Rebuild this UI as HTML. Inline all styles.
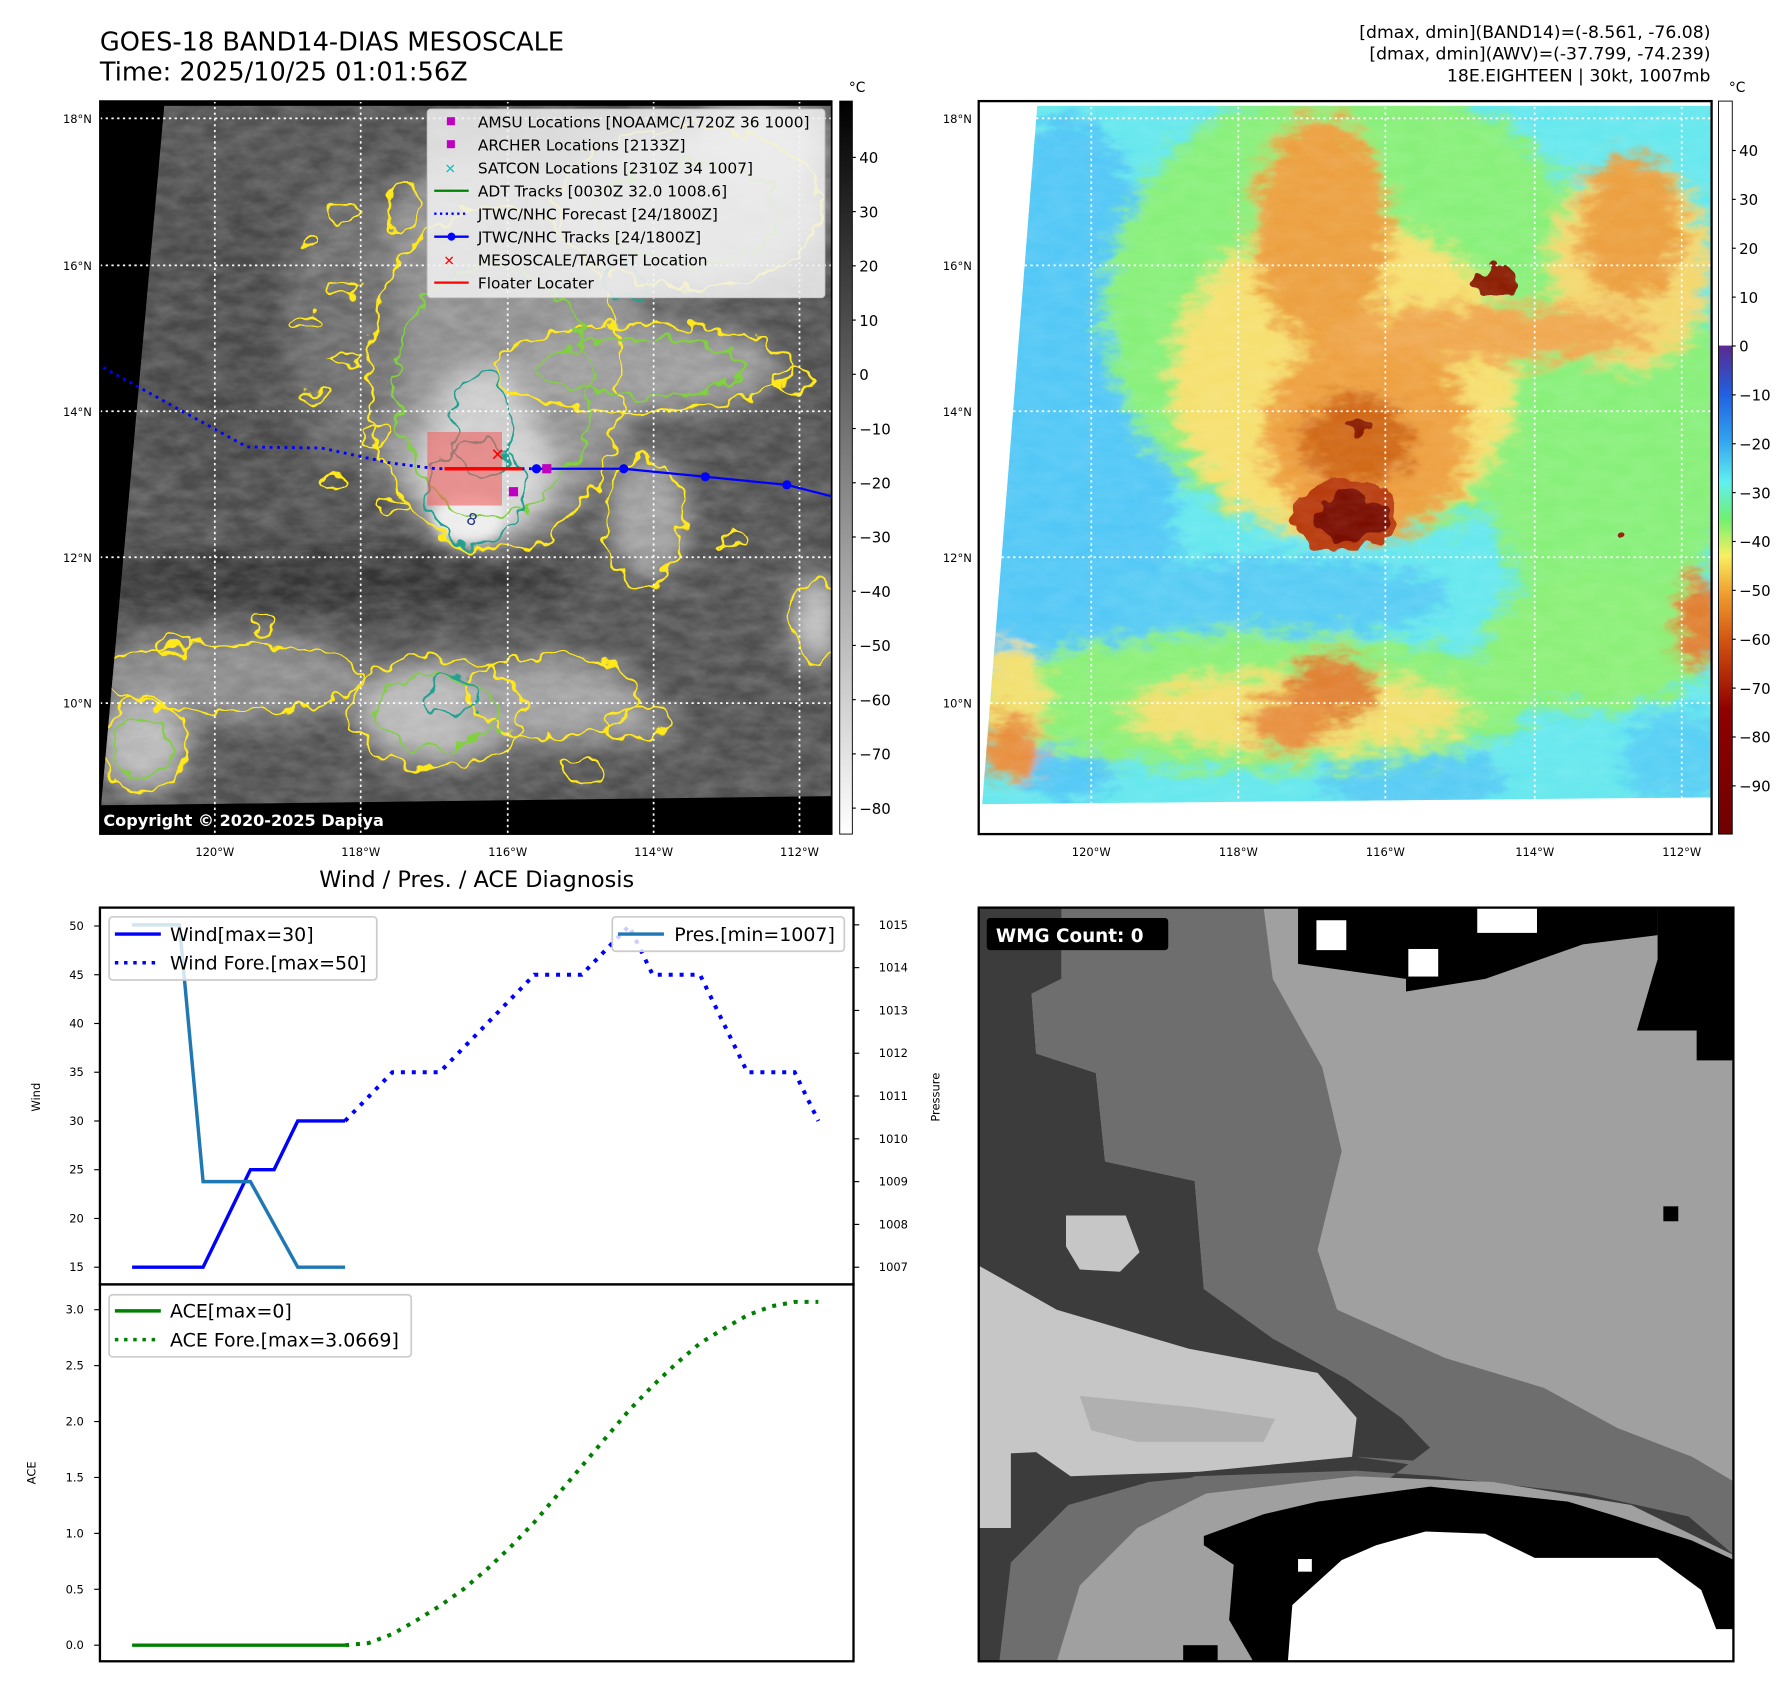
<!DOCTYPE html>
<html><head><meta charset="utf-8"><style>
html,body{margin:0;padding:0;background:#fff;}
svg{display:block;font-family:"DejaVu Sans","Liberation Sans",sans-serif;}
</style></head><body>
<svg id="fig" xmlns="http://www.w3.org/2000/svg" width="1792" height="1690" viewBox="0 0 1560 1471" preserveAspectRatio="none">
<defs>
  <clipPath id="clipL"><rect x="87" y="88" width="637" height="638"/></clipPath>
  <clipPath id="clipR"><rect x="852" y="88" width="638" height="638"/></clipPath>
  <clipPath id="clipDataL"><polygon points="143,92 724,92 724,693 88,701"/></clipPath>
  <clipPath id="clipDataR"><polygon points="903,92 1490,92 1490,694 855,700"/></clipPath>
  <clipPath id="clipW"><rect x="852" y="790" width="657" height="656"/></clipPath>
  <filter id="blur12" x="-50%" y="-50%" width="200%" height="200%"><feGaussianBlur stdDeviation="12"/></filter>
  <filter id="blur5" x="-50%" y="-50%" width="200%" height="200%"><feGaussianBlur stdDeviation="5"/></filter>
  <filter id="cloud" x="-30%" y="-30%" width="160%" height="160%">
    <feGaussianBlur stdDeviation="7" result="b"/>
    <feTurbulence type="fractalNoise" baseFrequency="0.05 0.1" numOctaves="3" seed="5" result="n"/>
    <feDisplacementMap in="b" in2="n" scale="34" xChannelSelector="R" yChannelSelector="G"/>
  </filter>
  <filter id="wig" x="-20%" y="-20%" width="140%" height="140%">
    <feTurbulence type="fractalNoise" baseFrequency="0.06" numOctaves="2" seed="3" result="n"/>
    <feDisplacementMap in="SourceGraphic" in2="n" scale="22" xChannelSelector="R" yChannelSelector="G"/>
  </filter>
  <filter id="tex" x="0" y="0" width="100%" height="100%">
    <feTurbulence type="fractalNoise" baseFrequency="0.045 0.09" numOctaves="3" seed="7"/>
    <feColorMatrix type="matrix" values="0 0 0 0 1  0 0 0 0 1  0 0 0 0 1  0.5 0 0 0 -0.12"/>
  </filter>
  <linearGradient id="cbL" x1="0" y1="0" x2="0" y2="1">
    <stop offset="0" stop-color="#000"/><stop offset="1" stop-color="#fff"/>
  </linearGradient>
  <linearGradient id="cbR" x1="0" y1="0" x2="0" y2="1">
    <stop offset="0" stop-color="#fff"/><stop offset="0.333" stop-color="#fff"/>
    <stop offset="0.334" stop-color="#5a2a90"/><stop offset="0.40" stop-color="#2060e0"/>
    <stop offset="0.46" stop-color="#30a0f0"/><stop offset="0.52" stop-color="#60f0f0"/>
    <stop offset="0.57" stop-color="#70f070"/><stop offset="0.62" stop-color="#f8f060"/>
    <stop offset="0.67" stop-color="#f0a030"/><stop offset="0.74" stop-color="#d05010"/>
    <stop offset="0.83" stop-color="#900000"/><stop offset="1" stop-color="#700000"/>
  </linearGradient>
</defs>

<!-- Titles -->
<text x="87" y="44" font-size="22.3">GOES-18 BAND14-DIAS MESOSCALE</text>
<text x="87" y="70" font-size="22.3">Time: 2025/10/25 01:01:56Z</text>
<g font-size="15" text-anchor="end">
  <text x="1489" y="33">[dmax, dmin](BAND14)=(-8.561, -76.08)</text>
  <text x="1489" y="52">[dmax, dmin](AWV)=(-37.799, -74.239)</text>
  <text x="1489" y="71">18E.EIGHTEEN | 30kt, 1007mb</text>
</g>

<!-- LEFT MAP -->
<g clip-path="url(#clipL)">
  <rect x="87" y="88" width="637" height="638" fill="#000"/>
  <g clip-path="url(#clipDataL)">
    <rect x="87" y="88" width="637" height="638" fill="#505050"/>
    <g filter="url(#blur12)">
      <ellipse cx="280" cy="505" rx="220" ry="30" fill="#363636"/>
      <ellipse cx="200" cy="300" rx="90" ry="140" fill="#484848"/>
      <ellipse cx="430" cy="300" rx="130" ry="170" fill="#8e8e8e"/>
      <ellipse cx="300" cy="280" rx="50" ry="120" fill="#6a6a6a"/>
      <ellipse cx="600" cy="180" rx="120" ry="70" fill="#a8a8a8"/>
      <ellipse cx="660" cy="125" rx="60" ry="40" fill="#c0c0c0"/>
      <ellipse cx="560" cy="320" rx="120" ry="40" fill="#9a9a9a"/>
      <ellipse cx="565" cy="450" rx="35" ry="55" fill="#a0a0a0"/>
      <ellipse cx="420" cy="410" rx="60" ry="60" fill="#d4d4d4"/>
      <ellipse cx="420" cy="360" rx="40" ry="40" fill="#cccccc"/>
      <ellipse cx="200" cy="590" rx="120" ry="40" fill="#8a8a8a"/>
      <ellipse cx="380" cy="620" rx="70" ry="45" fill="#b8b8b8"/>
      <ellipse cx="480" cy="610" rx="80" ry="40" fill="#9e9e9e"/>
      <ellipse cx="125" cy="650" rx="40" ry="40" fill="#b8b8b8"/>
      <ellipse cx="555" cy="630" rx="30" ry="15" fill="#a0a0a0"/>
      <ellipse cx="710" cy="540" rx="20" ry="40" fill="#c8c8c8"/>
    </g>
    <ellipse cx="408" cy="452" rx="32" ry="22" fill="#ececec" filter="url(#blur5)"/>
    <rect x="87" y="88" width="637" height="638" filter="url(#tex)" opacity="0.6"/>
    <g filter="url(#wig)" fill="none" stroke-width="2">
      <g stroke="#ffe81a">
        <ellipse cx="430" cy="330" rx="110" ry="150"/>
        <ellipse cx="600" cy="180" rx="115" ry="70"/>
        <ellipse cx="560" cy="320" rx="130" ry="38"/>
        <ellipse cx="560" cy="455" rx="35" ry="55"/>
        <ellipse cx="200" cy="590" rx="115" ry="30"/>
        <ellipse cx="380" cy="620" rx="75" ry="48"/>
        <ellipse cx="480" cy="605" rx="75" ry="35"/>
        <ellipse cx="125" cy="650" rx="38" ry="40"/>
        <ellipse cx="555" cy="630" rx="28" ry="14"/>
        <ellipse cx="710" cy="540" rx="20" ry="38"/>
        <ellipse cx="510" cy="670" rx="20" ry="10"/>
        <ellipse cx="300" cy="185" rx="14" ry="6"/><ellipse cx="270" cy="210" rx="12" ry="5"/>
        <ellipse cx="300" cy="250" rx="14" ry="6"/><ellipse cx="265" cy="280" rx="12" ry="5"/>
        <ellipse cx="300" cy="310" rx="14" ry="6"/><ellipse cx="270" cy="345" rx="12" ry="5"/>
        <ellipse cx="330" cy="380" rx="14" ry="6"/><ellipse cx="290" cy="420" rx="12" ry="5"/>
        <ellipse cx="340" cy="440" rx="14" ry="6"/><ellipse cx="350" cy="180" rx="12" ry="25"/>
        <ellipse cx="640" cy="470" rx="10" ry="6"/><ellipse cx="690" cy="330" rx="14" ry="10"/>
        <ellipse cx="230" cy="545" rx="10" ry="8"/><ellipse cx="150" cy="560" rx="14" ry="8"/>
      </g>
      <g stroke="#80d040">
        <ellipse cx="430" cy="340" rx="85" ry="110"/>
        <ellipse cx="600" cy="185" rx="80" ry="45"/>
        <ellipse cx="380" cy="620" rx="55" ry="32"/>
        <ellipse cx="560" cy="320" rx="90" ry="25"/>
        <ellipse cx="125" cy="650" rx="25" ry="25"/>
      </g>
      <g stroke="#20a090">
        <ellipse cx="415" cy="430" rx="42" ry="45"/>
        <ellipse cx="420" cy="370" rx="25" ry="45"/>
        <ellipse cx="540" cy="245" rx="18" ry="15"/>
        <ellipse cx="395" cy="605" rx="22" ry="18"/>
      </g>
    </g>
    <text x="405" y="455" font-size="14" fill="#2a3a8a" transform="rotate(20 405 455)">8</text>
  </g>
  <rect x="87" y="701" width="637" height="25" fill="#000"/>
  <g stroke="#fff" stroke-width="1.5" stroke-dasharray="2,3" fill="none">
    <line x1="187" y1="88" x2="187" y2="726"/><line x1="314" y1="88" x2="314" y2="726"/>
    <line x1="442" y1="88" x2="442" y2="726"/><line x1="569" y1="88" x2="569" y2="726"/>
    <line x1="696" y1="88" x2="696" y2="726"/>
    <line x1="87" y1="103" x2="724" y2="103"/><line x1="87" y1="231" x2="724" y2="231"/>
    <line x1="87" y1="358" x2="724" y2="358"/><line x1="87" y1="485" x2="724" y2="485"/>
    <line x1="87" y1="612" x2="724" y2="612"/>
  </g>
  <rect x="372" y="376" width="65" height="64" fill="#f06060" opacity="0.6"/>
  <polyline points="90,320 215,389 280,390 340,403 380,408 467,408" fill="none" stroke="#0000ff" stroke-width="2.5" stroke-dasharray="2.5,4"/>
  <line x1="387" y1="408" x2="455" y2="408" stroke="#ff0000" stroke-width="3"/>
  <polyline points="467,408 543,408 614,415 685,422 724,432" fill="none" stroke="#0000ff" stroke-width="2"/>
  <g fill="#0000ff"><circle cx="467" cy="408" r="4"/><circle cx="543" cy="408" r="4"/><circle cx="614" cy="415" r="4"/><circle cx="685" cy="422" r="4"/></g>
  <rect x="472" y="404" width="8" height="8" fill="#c000c0"/>
  <rect x="443" y="424" width="8" height="8" fill="#c000c0"/>
  <text x="427" y="401" font-size="15" font-weight="bold" fill="#ff0000">✕</text>
  <text x="90" y="719" font-size="14" font-weight="bold" fill="#fff">Copyright © 2020-2025 Dapiya</text>
  <g>
    <rect x="372" y="95" width="346" height="164" rx="3" fill="#f2f2f2" fill-opacity="0.85" stroke="#ccc"/>
    <g font-size="13.4" fill="#000">
      <rect x="389" y="102" width="7" height="7" fill="#c000c0"/><text x="416" y="111">AMSU Locations [NOAAMC/1720Z 36 1000]</text>
      <rect x="389" y="122" width="7" height="7" fill="#c000c0"/><text x="416" y="131">ARCHER Locations [2133Z]</text>
      <text x="387" y="151" fill="#10c0c0" font-size="12" font-weight="bold">✕</text><text x="416" y="151">SATCON Locations [2310Z 34 1007]</text>
      <line x1="378" y1="166" x2="408" y2="166" stroke="#008000" stroke-width="2"/><text x="416" y="171">ADT Tracks [0030Z 32.0 1008.6]</text>
      <line x1="378" y1="186" x2="408" y2="186" stroke="#0000ff" stroke-width="2" stroke-dasharray="2,3"/><text x="416" y="191">JTWC/NHC Forecast [24/1800Z]</text>
      <line x1="378" y1="206" x2="408" y2="206" stroke="#0000ff" stroke-width="2"/><circle cx="393" cy="206" r="3.5" fill="#0000ff"/><text x="416" y="211">JTWC/NHC Tracks [24/1800Z]</text>
      <text x="386" y="231" fill="#ff0000" font-size="12" font-weight="bold">✕</text><text x="416" y="231">MESOSCALE/TARGET Location</text>
      <line x1="378" y1="246" x2="408" y2="246" stroke="#ff0000" stroke-width="2"/><text x="416" y="251">Floater Locater</text>
    </g>
  </g>
</g>
<rect x="87" y="88" width="637" height="638" fill="none" stroke="#000" stroke-width="1.5"/>
<g font-size="10" text-anchor="end">
  <text x="80" y="107">18°N</text><text x="80" y="235">16°N</text><text x="80" y="362">14°N</text><text x="80" y="489">12°N</text><text x="80" y="616">10°N</text>
</g>
<g font-size="10" text-anchor="middle">
  <text x="187" y="745">120°W</text><text x="314" y="745">118°W</text><text x="442" y="745">116°W</text><text x="569" y="745">114°W</text><text x="696" y="745">112°W</text>
</g>
<rect x="731" y="88" width="11" height="638" fill="url(#cbL)" stroke="#000" stroke-width="0.8"/>
<text x="739" y="80" font-size="12">°C</text>
<g id="cbLlabels" font-size="13"></g>

<!-- RIGHT MAP -->
<g clip-path="url(#clipR)">
  <rect x="852" y="88" width="638" height="638" fill="#fff"/>
  <g clip-path="url(#clipDataR)">
    <rect x="852" y="88" width="638" height="638" fill="#66e8ee"/>
    <g filter="url(#cloud)">
      <ellipse cx="930" cy="400" rx="95" ry="300" fill="#52c8f6"/>
      <ellipse cx="1110" cy="520" rx="150" ry="35" fill="#58ccf4"/>
      <ellipse cx="1230" cy="680" rx="80" ry="30" fill="#58ccf4"/>
      <ellipse cx="1460" cy="660" rx="50" ry="40" fill="#58d0f4"/>
      <ellipse cx="1180" cy="270" rx="220" ry="200" fill="#88f07a"/>
      <ellipse cx="1400" cy="380" rx="110" ry="170" fill="#88f07a"/>
      <ellipse cx="1090" cy="610" rx="250" ry="60" fill="#8cf078"/>
      <ellipse cx="1390" cy="560" rx="100" ry="60" fill="#8cf078"/>
      <ellipse cx="1170" cy="330" rx="150" ry="140" fill="#f6e070"/>
      <ellipse cx="1420" cy="230" rx="70" ry="90" fill="#f4d870"/>
      <ellipse cx="1130" cy="620" rx="150" ry="35" fill="#f2e070"/>
      <ellipse cx="880" cy="620" rx="30" ry="60" fill="#f2e070"/>
      <ellipse cx="1150" cy="200" rx="60" ry="100" fill="#eca040"/>
      <ellipse cx="1190" cy="380" rx="90" ry="90" fill="#eea040"/>
      <ellipse cx="1300" cy="290" rx="140" ry="25" fill="#f0a850"/>
      <ellipse cx="1420" cy="200" rx="45" ry="65" fill="#eca040"/>
      <ellipse cx="1160" cy="600" rx="40" ry="30" fill="#e08030"/>
      <ellipse cx="1120" cy="630" rx="35" ry="25" fill="#e89040"/>
      <ellipse cx="880" cy="650" rx="28" ry="28" fill="#e89040"/>
      <ellipse cx="1480" cy="540" rx="22" ry="40" fill="#e08030"/>
      <ellipse cx="1180" cy="385" rx="48" ry="42" fill="#d06818"/>
    </g>
    <g filter="url(#wig)">
      <ellipse cx="1170" cy="448" rx="42" ry="32" fill="#b83a08"/>
      <ellipse cx="1175" cy="450" rx="30" ry="22" fill="#7a0800"/>
      <ellipse cx="1300" cy="247" rx="18" ry="15" fill="#8a1a00"/>
      <ellipse cx="1183" cy="372" rx="9" ry="8" fill="#8a1a00"/>
      <ellipse cx="1410" cy="467" rx="4" ry="4" fill="#8a1a00"/>
    </g>
    <rect x="852" y="88" width="638" height="638" filter="url(#tex)" opacity="0.3"/>
  </g>
  <g stroke="#fff" stroke-width="1.5" stroke-dasharray="2,3" fill="none">
    <line x1="950" y1="88" x2="950" y2="726"/><line x1="1078" y1="88" x2="1078" y2="726"/>
    <line x1="1206" y1="88" x2="1206" y2="726"/><line x1="1336" y1="88" x2="1336" y2="726"/>
    <line x1="1464" y1="88" x2="1464" y2="726"/>
    <line x1="852" y1="103" x2="1490" y2="103"/><line x1="852" y1="231" x2="1490" y2="231"/>
    <line x1="852" y1="358" x2="1490" y2="358"/><line x1="852" y1="485" x2="1490" y2="485"/>
    <line x1="852" y1="612" x2="1490" y2="612"/>
  </g>
</g>
<rect x="852" y="88" width="638" height="638" fill="none" stroke="#000" stroke-width="2"/>
<g font-size="10" text-anchor="end">
  <text x="846" y="107">18°N</text><text x="846" y="235">16°N</text><text x="846" y="362">14°N</text><text x="846" y="489">12°N</text><text x="846" y="616">10°N</text>
</g>
<g font-size="10" text-anchor="middle">
  <text x="950" y="745">120°W</text><text x="1078" y="745">118°W</text><text x="1206" y="745">116°W</text><text x="1336" y="745">114°W</text><text x="1464" y="745">112°W</text>
</g>
<rect x="1496" y="88" width="12" height="638" fill="url(#cbR)" stroke="#000" stroke-width="0.8"/>
<text x="1505" y="80" font-size="12">°C</text>
<g id="cbRlabels" font-size="13"></g>

<!-- WMG PANEL -->
<g clip-path="url(#clipW)">
  <rect x="852" y="790" width="657" height="656" fill="#a0a0a0"/>
  <polygon fill="#3c3c3c" points="852,790 924,790 924,852 898,865 902,917 954,934 962,1011 1040,1028 1048,1122 1108,1165 1172,1200 1220,1234 1245,1260 1510,1290 1510,1446 852,1446"/>
  <polygon fill="#6e6e6e" points="924,790 1100,790 1108,852 1151,929 1168,1002 1147,1088 1164,1140 1258,1182 1344,1208 1408,1243 1473,1268 1510,1290 1510,1354 1470,1320 1380,1300 1250,1285 1180,1280 1040,1285 1000,1300 960,1320 920,1340 890,1446 1000,1446 1245,1260 1220,1234 1172,1200 1108,1165 1048,1122 1040,1028 962,1011 954,934 902,917 898,865 924,852"/>
  <polygon fill="#6e6e6e" points="870,1446 880,1360 930,1310 1000,1290 1050,1285 1050,1300 990,1330 940,1380 920,1446"/>
  <polygon fill="#a0a0a0" points="920,1446 940,1380 990,1330 1050,1300 1180,1285 1300,1290 1420,1310 1510,1354 1510,1446"/>
  <polygon fill="#6e6e6e" points="1180,1268 1510,1290 1510,1310 1420,1300 1300,1285"/>
  <polygon fill="#c6c6c6" points="851,1101 920,1140 1035,1174 1147,1195 1181,1234 1177,1268 1044,1281 932,1285 902,1264 880,1265 880,1330 851,1330"/>
  <polygon fill="#b0b0b0" points="940,1215 1040,1225 1110,1235 1100,1255 990,1255 950,1245"/>
  <polygon fill="#c6c6c6" points="928,1058 980,1058 992,1090 975,1107 940,1105 928,1085"/>
  <polygon fill="#000" points="1048,1337 1100,1318 1147,1307 1245,1294 1365,1307 1408,1320 1473,1341 1510,1358 1510,1418 1507,1446 1091,1446 1070,1410 1074,1362 1048,1345"/>
  <polygon fill="#fff" points="1121,1448 1125,1397 1168,1358 1198,1345 1241,1333 1293,1335 1336,1356 1443,1356 1481,1384 1494,1418 1510,1418 1510,1448"/>
  <rect x="1130" y="1357" width="12" height="11" fill="#fff"/>
  <polygon fill="#000" points="1443,788 1510,788 1510,923 1477,923 1477,897 1425,897 1443,835"/>
  <polygon fill="#000" points="1130,788 1443,788 1443,814 1378,822 1293,852 1224,863 1224,852 1130,839"/>
  <rect x="1146" y="801" width="26" height="26" fill="#fff"/>
  <rect x="1226" y="826" width="26" height="24" fill="#fff"/>
  <rect x="1286" y="788" width="52" height="24" fill="#fff"/>
  <rect x="1448" y="1050" width="13" height="13" fill="#000"/>
  <rect x="1030" y="1432" width="30" height="14" fill="#000"/>
</g>
<rect x="852" y="790" width="657" height="656" fill="none" stroke="#000" stroke-width="2"/>
<rect x="859" y="799" width="158" height="28" rx="3" fill="#000"/>
<text x="867" y="820" font-size="16" font-weight="bold" fill="#fff">WMG Count: 0</text>

<!-- TIME SERIES -->
<text x="415" y="772" font-size="19.5" text-anchor="middle">Wind / Pres. / ACE Diagnosis</text>
<rect x="87" y="790" width="656" height="328" fill="#fff" stroke="#000" stroke-width="2"/>
<rect x="87" y="1118" width="656" height="328" fill="#fff" stroke="#000" stroke-width="2"/>
<text x="35" y="955" font-size="10" text-anchor="middle" transform="rotate(-90 35 955)">Wind</text>
<text x="818" y="955" font-size="10" text-anchor="middle" transform="rotate(-90 818 955)">Pressure</text>
<text x="31" y="1282" font-size="10" text-anchor="middle" transform="rotate(-90 31 1282)">ACE</text>
<g id="axes" font-size="10"></g>
<g id="marks"></g>
<g>
  <rect x="95" y="798" width="233" height="55" rx="3" fill="#fff" fill-opacity="0.8" stroke="#ccc" stroke-width="1.5"/>
  <line x1="100" y1="813" x2="140" y2="813" stroke="#0000ff" stroke-width="3"/>
  <line x1="100" y1="838" x2="140" y2="838" stroke="#0000ff" stroke-width="3" stroke-dasharray="3,5"/>
  <text x="148" y="819" font-size="16.5">Wind[max=30]</text>
  <text x="148" y="844" font-size="16.5">Wind Fore.[max=50]</text>
</g>
<g>
  <rect x="533" y="798" width="202" height="30" rx="3" fill="#fff" fill-opacity="0.8" stroke="#ccc" stroke-width="1.5"/>
  <line x1="538" y1="813" x2="578" y2="813" stroke="#1f77b4" stroke-width="3"/>
  <text x="587" y="819" font-size="16.5">Pres.[min=1007]</text>
</g>
<g>
  <rect x="95" y="1127" width="263" height="54" rx="3" fill="#fff" fill-opacity="0.8" stroke="#ccc" stroke-width="1.5"/>
  <line x1="100" y1="1141" x2="140" y2="1141" stroke="#008000" stroke-width="3"/>
  <line x1="100" y1="1166" x2="140" y2="1166" stroke="#008000" stroke-width="3" stroke-dasharray="3,5"/>
  <text x="148" y="1147" font-size="16.5">ACE[max=0]</text>
  <text x="148" y="1172" font-size="16.5">ACE Fore.[max=3.0669]</text>
</g>

<script>
var windObs = [15,15,15,15,20,25,25,30,30,30];
var windFore = [30,32.5,35,35,35,37.5,40,42.5,45,45,45,47.5,50,45,45,45,40,35,35,35,30];
var presObs = [1015,1015,1015,1009,1009,1009,1008,1007,1007,1007];
var aceObs = [0,0,0,0,0,0,0,0,0,0];
var aceFore = [0,0.02,0.1,0.22,0.35,0.5,0.68,0.88,1.1,1.35,1.6,1.85,2.1,2.32,2.52,2.7,2.83,2.95,3.03,3.07,3.07];
var windTicks = [15,20,25,30,35,40,45,50];
var presTicks = [1007,1008,1009,1010,1011,1012,1013,1014,1015];
var aceTicks = [0,0.5,1,1.5,2,2.5,3];
var irTicks = [40,30,20,10,0,-10,-20,-30,-40,-50,-60,-70,-80];
var awvTicks = [40,30,20,10,0,-10,-20,-30,-40,-50,-60,-70,-80,-90];
var foreStart = 9;

var NS = "http://www.w3.org/2000/svg";
function xI(i){ return 115 + i*20.6; }
function yW(v){ return 1103 - (v-15)*(297/35); }
function yP(p){ return 1103 - (p-1007)*(298/8); }
function yA(a){ return 1432 - a*(292/3); }
function yIR(t){ return 137 + (40-t)*4.72; }
function yAWV(t){ return 131 + (40-t)*4.254; }

function mk(tag, attrs, parent){
  var e = document.createElementNS(NS, tag);
  for (var k in attrs) e.setAttribute(k, attrs[k]);
  parent.appendChild(e); return e;
}

var axes = document.getElementById('axes');
windTicks.forEach(function(t){
  var y = yW(t);
  var l = mk('line', {x1:82, x2:87, y1:y, y2:y, stroke:'#000'}, axes);
  
  
  var tx = mk('text', {x:73, y:y+3.5, 'text-anchor':'end'}, axes);
  
  
  tx.textContent = t;
});
presTicks.forEach(function(t){
  var y = yP(t);
  var l = mk('line', {x1:743, x2:748, y1:y, y2:y, stroke:'#000'}, axes);
  
  
  var tx = mk('text', {x:765, y:y+3.5}, axes);
  
  
  tx.textContent = t;
});
aceTicks.forEach(function(t){
  var y = yA(t);
  var l = mk('line', {x1:82, x2:87, y1:y, y2:y, stroke:'#000'}, axes);
  
  
  var tx = mk('text', {x:73, y:y+3.5, 'text-anchor':'end'}, axes);
  
  
  tx.textContent = t.toFixed(1);
});
var cbL = document.getElementById('cbLlabels');
irTicks.forEach(function(t){
  var y = yIR(t);
  mk('line', {x1:742, x2:745, y1:y, y2:y, stroke:'#000'}, cbL);
  var tx = mk('text', {x:748, y:y+5}, cbL);
  
  
  tx.textContent = String(t).replace('-', '\u2212');
});
var cbR = document.getElementById('cbRlabels');
awvTicks.forEach(function(t){
  var y = yAWV(t);
  mk('line', {x1:1508, x2:1511, y1:y, y2:y, stroke:'#000'}, cbR);
  var tx = mk('text', {x:1514, y:y+5}, cbR);
  
  
  tx.textContent = String(t).replace('-', '\u2212');
});

var marks = document.getElementById('marks');
function poly(vals, off, yf, attrs, name){
  var pts = vals.map(function(v,i){ return xI(i+off).toFixed(1)+','+yf(v).toFixed(1); }).join(' ');
  attrs.points = pts; attrs.fill = 'none';
  var p = mk('polyline', attrs, marks);
  
  
}
poly(windFore, foreStart, yW, {stroke:'#0000ff', 'stroke-width':3.5, 'stroke-dasharray':'3.5,6'}, 'wind-forecast-line');
poly(windObs, 0, yW, {stroke:'#0000ff', 'stroke-width':3}, 'wind-line');
poly(presObs, 0, yP, {stroke:'#1f77b4', 'stroke-width':3}, 'pressure-line');
poly(aceFore, foreStart, yA, {stroke:'#008000', 'stroke-width':3.5, 'stroke-dasharray':'3.5,6'}, 'ace-forecast-line');
poly(aceObs, 0, yA, {stroke:'#008000', 'stroke-width':3}, 'ace-line');
</script>
</svg>
</body></html>
